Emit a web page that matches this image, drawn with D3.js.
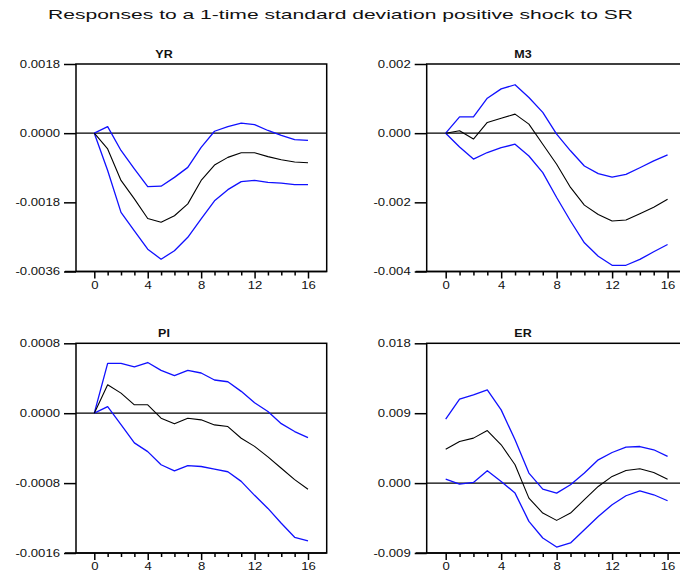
<!DOCTYPE html>
<html><head><meta charset="utf-8">
<script src="https://cdn.jsdelivr.net/npm/d3@7"></script>
<style>body{margin:0;background:#fff} svg{display:block}</style>
</head><body><svg id="c" width="680" height="575"></svg>
<script>
const chartTitle = "Responses to a 1-time standard deviation positive shock to SR";
const horizons = d3.range(0, 17);
const xTickLabels = ["0", "4", "8", "12", "16"];

const yrResponse = [0, -0.00041, -0.00123, -0.00171, -0.00222, -0.00232, -0.00215, -0.00184, -0.00123, -0.00083, -0.00063, -0.00051, -0.00051, -0.00061, -0.00069, -0.00075, -0.00077];
const yrUpper    = [0, 0.00017, -0.00045, -0.00093, -0.00139, -0.00138, -0.00115, -0.00089, -0.00037, 0.00005, 0.00017, 0.00026, 0.00022, 0.00007, -0.00006, -0.00017, -0.00019];
const yrLower    = [0, -0.00097, -0.00206, -0.00254, -0.00302, -0.00328, -0.00306, -0.00271, -0.00223, -0.00176, -0.00147, -0.00126, -0.00123, -0.00128, -0.00130, -0.00134, -0.00134];
const yrTicks = [0.0018, 0, -0.0018, -0.0036];
const yrTickLabels = ["0.0018", "0.0000", "-0.0018", "-0.0036"];

const m3Response = [0, 0.00007, -0.00017, 0.00031, 0.00043, 0.00055, 0.00026, -0.00032, -0.00090, -0.00157, -0.00208, -0.00235, -0.00254, -0.00251, -0.00233, -0.00214, -0.00191];
const m3Upper    = [0, 0.00047, 0.00047, 0.00101, 0.00128, 0.00140, 0.00103, 0.00060, -0.00003, -0.00051, -0.00095, -0.00117, -0.00127, -0.00119, -0.00100, -0.00080, -0.00063];
const m3Lower    = [0, -0.00040, -0.00075, -0.00056, -0.00042, -0.00032, -0.00066, -0.00114, -0.00186, -0.00254, -0.00317, -0.00356, -0.00382, -0.00382, -0.00365, -0.00343, -0.00322];
const m3Ticks = [0.002, 0, -0.002, -0.004];
const m3TickLabels = ["0.002", "0.000", "-0.002", "-0.004"];

const piResponse = [0, 0.000325, 0.00023, 0.000096, 0.000096, -0.000057, -0.000122, -0.000057, -0.000076, -0.000134, -0.000153, -0.000287, -0.00038, -0.00050, -0.00063, -0.00076, -0.00087];
const piUpper    = [0, 0.00057, 0.00057, 0.00053, 0.00058, 0.00049, 0.00043, 0.00049, 0.00046, 0.00038, 0.00036, 0.00025, 0.00012, 0.00002, -0.00012, -0.00021, -0.00028];
const piLower    = [0, 0.000076, -0.00013, -0.00034, -0.00044, -0.00059, -0.00066, -0.00060, -0.00061, -0.00064, -0.00067, -0.00078, -0.00094, -0.00109, -0.00126, -0.00142, -0.00146];
const piTicks = [0.0008, 0, -0.0008, -0.0016];
const piTickLabels = ["0.0008", "0.0000", "-0.0008", "-0.0016"];

const erResponse = [0.00437, 0.00536, 0.00579, 0.00677, 0.00493, 0.00236, -0.00193, -0.00386, -0.00480, -0.00386, -0.00214, -0.00043, 0.00086, 0.00163, 0.00184, 0.00137, 0.00051];
const erUpper    = [0.00823, 0.01080, 0.01136, 0.01200, 0.00943, 0.00557, 0.00129, -0.00077, -0.00129, -0.00021, 0.00129, 0.00300, 0.00394, 0.00463, 0.00471, 0.00429, 0.00343];
const erLower    = [0.00051, -0.00013, 0.00009, 0.00159, 0.00021, -0.00129, -0.00493, -0.00707, -0.00823, -0.00771, -0.00600, -0.00429, -0.00279, -0.00163, -0.00099, -0.00150, -0.00227];
const erTicks = [0.018, 0.009, 0, -0.009];
const erTickLabels = ["0.018", "0.009", "0.000", "-0.009"];

const panels = [
  {name: "YR", resp: yrResponse, upper: yrUpper, lower: yrLower, ticks: yrTicks, labels: yrTickLabels, col: 0, row: 0},
  {name: "M3", resp: m3Response, upper: m3Upper, lower: m3Lower, ticks: m3Ticks, labels: m3TickLabels, col: 1, row: 0},
  {name: "PI", resp: piResponse, upper: piUpper, lower: piLower, ticks: piTicks, labels: piTickLabels, col: 0, row: 1},
  {name: "ER", resp: erResponse, upper: erUpper, lower: erLower, ticks: erTicks, labels: erTickLabels, col: 1, row: 1}
];

const cols = [{x0: 76, x1: 326.7, titleX: 164}, {x0: 426.7, x1: 687, titleX: 523}];
const rows = [{y0: 64, y1: 271.5, titleY: 58}, {y0: 343.3, y1: 553, titleY: 337}];
const xDomain = [-1.37, 17.4];

const svg = d3.select("#c");
const FONT = "'Liberation Sans', Arial, sans-serif";

svg.append("text").attr("class", "ttl")
  .attr("x", 340.5).attr("y", 19).attr("text-anchor", "middle")
  .attr("font-family", FONT).attr("font-size", 13.5).attr("fill", "#111")
  .attr("textLength", 585).attr("lengthAdjust", "spacingAndGlyphs")
  .text(chartTitle);

panels.forEach(p => {
  const c = cols[p.col], r = rows[p.row];
  const x = d3.scaleLinear().domain(xDomain).range([c.x0, c.x1]);
  const y = d3.scaleLinear().domain([d3.min(p.ticks), d3.max(p.ticks)]).range([r.y1, r.y0]);
  const g = svg.append("g");

  // panel title
  g.append("text").attr("class", "stretch")
    .attr("x", c.titleX).attr("y", r.titleY).attr("text-anchor", "middle")
    .attr("font-family", FONT).attr("font-size", 10).attr("font-weight", "bold").attr("fill", "#111")
    .text(p.name);

  // zero line
  g.append("line").attr("x1", c.x0).attr("x2", c.x1).attr("y1", y(0)).attr("y2", y(0))
    .attr("stroke", "#000").attr("stroke-width", 1.2);

  // series
  const line = d3.line().x((d, i) => x(horizons[i])).y(d => y(d));
  [[p.upper, "#1010ff", 1.3], [p.lower, "#1010ff", 1.3], [p.resp, "#000", 1.1]].forEach(([s, col, w]) => {
    g.append("path").datum(s).attr("d", line).attr("fill", "none")
      .attr("stroke", col).attr("stroke-width", w).attr("stroke-linejoin", "round");
  });

  // frame
  g.append("rect").attr("x", c.x0).attr("y", r.y0).attr("width", c.x1 - c.x0).attr("height", r.y1 - r.y0)
    .attr("fill", "none").attr("stroke", "#000").attr("stroke-width", 1.5);

  // y axis
  const ya = g.append("g").attr("transform", `translate(${c.x0},0)`)
    .call(d3.axisLeft(y).tickValues(p.ticks).tickSize(12).tickPadding(4)
      .tickFormat((d, i) => p.labels[i]));
  ya.select(".domain").remove();
  ya.selectAll("line").attr("stroke", "#000").attr("stroke-width", 1.5);
  ya.selectAll("text").attr("class", "stretch").attr("font-family", FONT).attr("font-size", 10.5).attr("fill", "#111");

  // x axis
  const xa = g.append("g").attr("transform", `translate(0,${r.y1})`)
    .call(d3.axisBottom(x).tickValues(horizons).tickSize(7).tickPadding(3)
      .tickFormat(d => d % 4 === 0 ? xTickLabels[d / 4] : ""));
  xa.select(".domain").remove();
  xa.selectAll(".tick line").attr("stroke", "#000").attr("stroke-width", 1.5)
    .attr("y2", d => d % 4 === 0 ? 7 : 4);
  xa.selectAll("text").attr("class", "stretch").attr("font-family", FONT).attr("font-size", 10.5).attr("fill", "#111");
  g.append("line").attr("x1", c.x0 - 11).attr("x2", c.x1).attr("y1", r.y1).attr("y2", r.y1)
    .attr("stroke", "#000").attr("stroke-width", 1.5);
});

svg.selectAll("text.stretch").each(function () {
  const t = this.textContent;
  if (!t) return;
  const w = this.getComputedTextLength();
  d3.select(this).attr("textLength", w * 1.25).attr("lengthAdjust", "spacingAndGlyphs");
});
</script>
</body></html>
